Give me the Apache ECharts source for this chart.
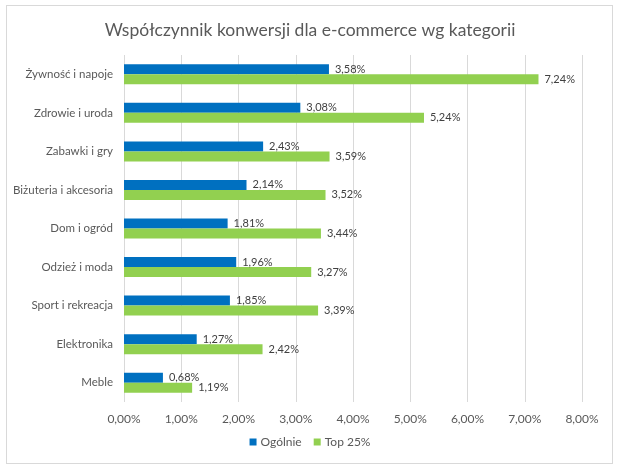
<!DOCTYPE html>
<html>
<head>
<meta charset="utf-8">
<script src="https://cdn.jsdelivr.net/npm/echarts@6/dist/echarts.min.js"></script>
<style>
  html, body { margin: 0; padding: 0; background: #fff; }
  #chart { width: 620px; height: 468px; }
  #frame { position: absolute; left: 6px; top: 5px; width: 605px; height: 457px; border: 1px solid #d9d9d9; pointer-events: none; }
</style>
</head>
<body>
<div id="chart"></div>
<div id="frame"></div>
<script type="text/javascript">
// kategorie od góry do dołu
var categories = ['Żywność i napoje', 'Zdrowie i uroda', 'Zabawki i gry', 'Biżuteria i akcesoria', 'Dom i ogród', 'Odzież i moda', 'Sport i rekreacja', 'Elektronika', 'Meble'];
var ogolnie = [3.58, 3.08, 2.43, 2.14, 1.81, 1.96, 1.85, 1.27, 0.68];
var top25 = [7.24, 5.24, 3.59, 3.52, 3.44, 3.27, 3.39, 2.42, 1.19];
var xTicks = [0, 1, 2, 3, 4, 5, 6, 7, 8];

var font = 'Lato, "Open Sans", sans-serif';

function pct(v) {
  return v.toFixed(2).replace('.', ',') + '%';
}

var chart = echarts.init(document.getElementById('chart'));

var option = {
  animation: false,
  textStyle: { fontFamily: font },
  title: {
    text: 'Współczynnik konwersji dla e-commerce wg kategorii',
    left: 'center',
    top: 16,
    textStyle: { fontFamily: font, fontSize: 17.5, fontWeight: 'normal', color: '#595959' }
  },
  legend: {
    bottom: 15,
    left: 'center',
    itemWidth: 7,
    itemHeight: 7,
    itemGap: 12,
    icon: 'rect',
    textStyle: { fontFamily: font, fontSize: 12, color: '#595959', padding: [0, 0, 0, -1] },
    data: ['Ogólnie', 'Top 25%']
  },
  grid: { left: 124, right: 38, top: 55, bottom: 66 },
  xAxis: {
    type: 'value',
    min: xTicks[0],
    max: xTicks[xTicks.length - 1],
    interval: 1,
    axisLine: { show: false },
    axisTick: { show: false },
    axisLabel: { color: '#595959', fontSize: 12, margin: 11, formatter: function (v) { return pct(v); } },
    splitLine: { show: true, lineStyle: { color: '#d9d9d9', width: 1 } }
  },
  yAxis: {
    type: 'category',
    inverse: true,
    data: categories,
    axisLine: { show: false },
    axisTick: { show: false },
    axisLabel: { color: '#595959', fontSize: 11.5, margin: 11 }
  },
  series: [
    {
      name: 'Ogólnie',
      type: 'bar',
      data: ogolnie,
      barWidth: 10,
      barGap: '0%',
      itemStyle: { color: '#0070c0' },
      label: { show: true, position: 'right', distance: 6, color: '#404040', fontSize: 11, formatter: function (p) { return pct(p.value); } }
    },
    {
      name: 'Top 25%',
      type: 'bar',
      data: top25,
      barWidth: 10,
      itemStyle: { color: '#92d050' },
      label: { show: true, position: 'right', distance: 6, color: '#404040', fontSize: 11, formatter: function (p) { return pct(p.value); } }
    }
  ]
};

chart.setOption(option);
</script>
</body>
</html>
